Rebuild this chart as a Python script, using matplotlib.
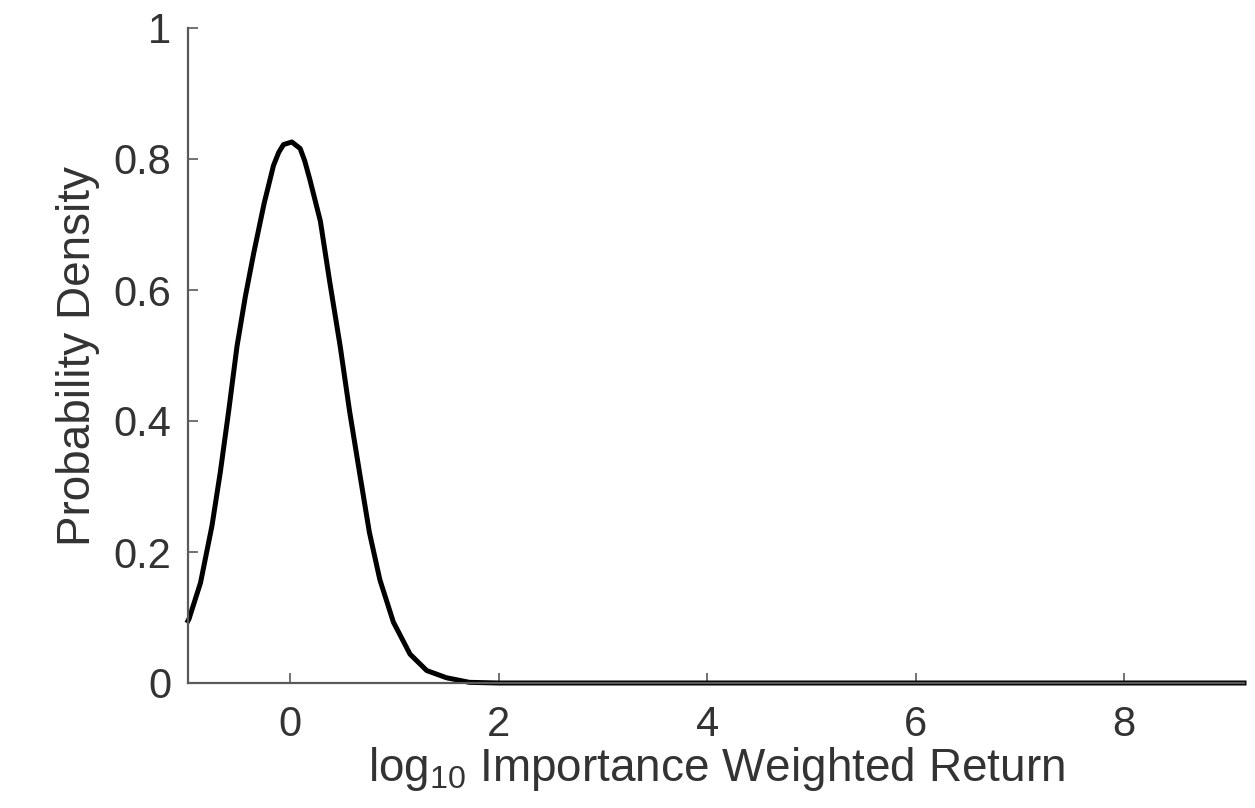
import matplotlib
matplotlib.use('Agg')
import matplotlib.pyplot as plt

plt.rcParams['font.family'] = ['Liberation Sans', 'DejaVu Sans']
plt.rcParams['mathtext.fontset'] = 'custom'
plt.rcParams['mathtext.rm'] = 'Liberation Sans'
plt.rcParams['mathtext.default'] = 'regular'

# density curve of log10 importance weighted return
log_return = [-0.98, -0.97, -0.86, -0.75, -0.67, -0.59, -0.51, -0.43, -0.35, -0.25,
              -0.16, -0.11, -0.064, 0.016, 0.096, 0.14, 0.19, 0.29, 0.38, 0.48,
              0.57, 0.67, 0.76, 0.86, 0.99, 1.15, 1.31, 1.50, 1.72, 2.0, 9.15]
density = [0.095, 0.098, 0.153, 0.240, 0.322, 0.415, 0.514, 0.590, 0.656, 0.732,
           0.790, 0.810, 0.822, 0.826, 0.816, 0.797, 0.768, 0.705, 0.612, 0.514,
           0.415, 0.317, 0.230, 0.158, 0.093, 0.044, 0.019, 0.008, 0.001, 0.0, 0.0]

x_ticks = [0, 2, 4, 6, 8]
y_ticks = [0, 0.2, 0.4, 0.6, 0.8, 1]
y_tick_labels = ['0', '0.2', '0.4', '0.6', '0.8', '1']

text_col = '#333333'
axis_col = '#5a5a5a'

fig = plt.figure(figsize=(12.55, 8.08), dpi=100)
ax = fig.add_axes([188 / 1255, 125 / 808, (1244 - 188) / 1255, (683 - 28) / 808])

ax.plot(log_return, density, color='black', linewidth=3.6, solid_joinstyle='round',
        clip_on=False)

ax.set_xlim(-0.98, 9.15)
ax.set_ylim(0, 1)
ax.set_xticks(x_ticks)
ax.set_yticks(y_ticks)
ax.set_yticklabels(y_tick_labels)

for side in ['top', 'right']:
    ax.spines[side].set_visible(False)
for side in ['left', 'bottom']:
    ax.spines[side].set_color(axis_col)
    ax.spines[side].set_linewidth(1.6)

ax.tick_params(direction='in', length=7, width=1.2, color=axis_col,
               labelsize=30, labelcolor=text_col)
ax.tick_params(axis='y', pad=12)
ax.tick_params(axis='x', pad=16)

ax.set_xlabel('log$_{10}$ Importance Weighted Return', fontsize=33, color=text_col,
              labelpad=0)
ax.set_ylabel('Probability Density', fontsize=33, color=text_col, labelpad=10)

fig.savefig('out.png', dpi=100, facecolor='white')
